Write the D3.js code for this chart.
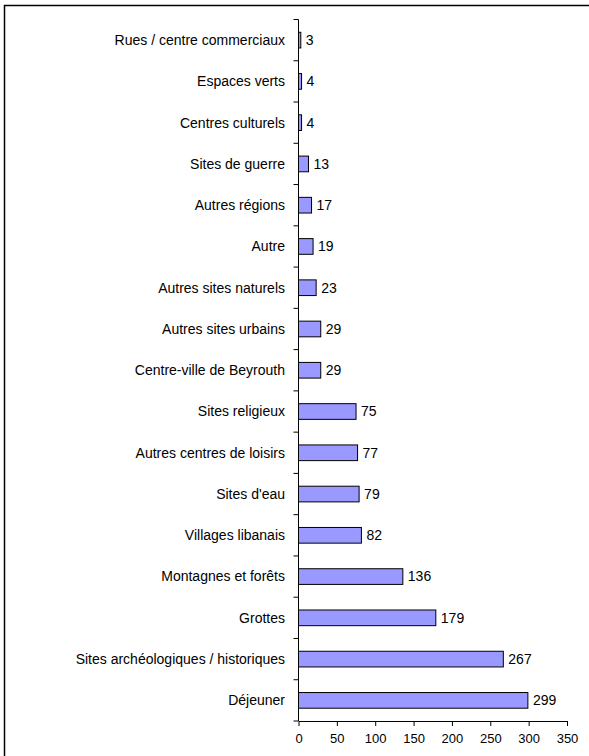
<!DOCTYPE html>
<html><head><meta charset="utf-8">
<script src="https://cdn.jsdelivr.net/npm/d3@7"></script>
<style>body{margin:0;background:#fff;}svg{display:block;font-family:Arial,"Liberation Sans",sans-serif;}</style>
</head><body>
<script>
const categories = ["Rues / centre commerciaux","Espaces verts","Centres culturels","Sites de guerre","Autres régions","Autre","Autres sites naturels","Autres sites urbains","Centre-ville de Beyrouth","Sites religieux","Autres centres de loisirs","Sites d'eau","Villages libanais","Montagnes et forêts","Grottes","Sites archéologiques / historiques","Déjeuner"];
const values = [3,4,4,13,17,19,23,29,29,75,77,79,82,136,179,267,299];
const xTicks = [0,50,100,150,200,250,300,350];

const W=589,H=756;
const svg=d3.select("body").append("svg").attr("width",W).attr("height",H);
svg.append("rect").attr("x",4.5).attr("y",5.5).attr("width",W+10).attr("height",H+10)
  .attr("fill","none").attr("stroke","#000").attr("stroke-width",1.5);

const x=d3.scaleLinear().domain([0,350]).range([298.5,567]);
const y=d3.scaleBand().domain(categories).range([19.5,721]).paddingInner(0.62).paddingOuter(0.31);

const data=categories.map((c,i)=>({c,v:values[i]}));
svg.selectAll("rect.bar").data(data).join("rect").attr("class","bar")
  .attr("x",x(0)).attr("y",d=>y(d.c)).attr("width",d=>x(d.v)-x(0)).attr("height",y.bandwidth())
  .attr("fill","#9999ff").attr("stroke","#000").attr("stroke-width",1);

svg.selectAll("text.val").data(data).join("text").attr("class","val")
  .attr("x",d=>x(d.v)+5).attr("y",d=>y(d.c)+y.bandwidth()/2).attr("dy","0.35em")
  .attr("font-size",14).attr("fill","#000").text(d=>d.v);

// category labels
svg.selectAll("text.cat").data(categories).join("text").attr("class","cat")
  .attr("x",285).attr("y",d=>y(d)+y.bandwidth()/2).attr("dy","0.35em").attr("text-anchor","end")
  .attr("font-size",14).attr("fill","#000").text(d=>d);

// y axis line + ticks at band boundaries
const yb=d3.range(categories.length+1).map(i=>19.5+i*(721-19.5)/categories.length);
svg.append("line").attr("x1",x(0)).attr("x2",x(0)).attr("y1",19.5).attr("y2",721).attr("stroke","#000");
svg.selectAll("line.yt").data(yb).join("line").attr("class","yt")
  .attr("x1",x(0)-5).attr("x2",x(0)).attr("y1",d=>d).attr("y2",d=>d).attr("stroke","#000");

// x axis
const xa=svg.append("g").attr("transform","translate(0,721)")
  .call(d3.axisBottom(x).tickValues(xTicks).tickSize(5).tickSizeOuter(0));
xa.select(".domain").attr("stroke","#000");
xa.selectAll(".tick line").attr("stroke","#000");
xa.selectAll(".tick text").attr("font-size",13).attr("fill","#000").attr("font-family","Arial, Liberation Sans, sans-serif").attr("dy","1.05em");
</script>
</body></html>
